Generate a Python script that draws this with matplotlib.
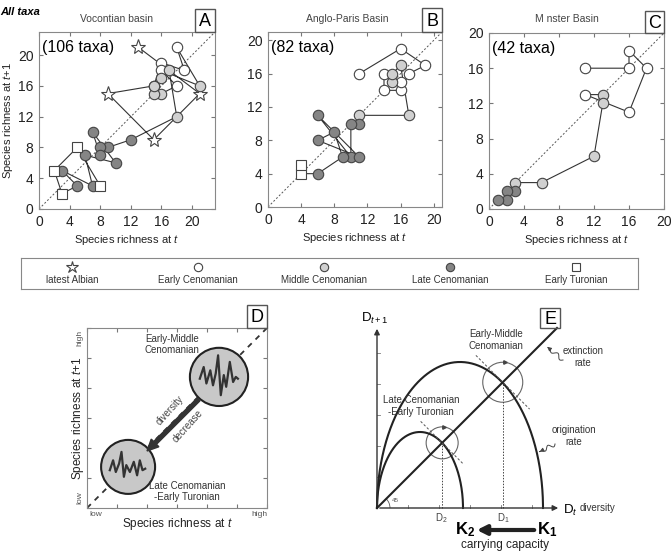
import numpy as np
import matplotlib
matplotlib.use('Agg')
import matplotlib.pyplot as plt
from matplotlib.patches import Circle, Rectangle, Arc

plt.rcParams['font.family'] = ['Liberation Sans', 'DejaVu Sans']
plt.rcParams['mathtext.fontset'] = 'custom'
plt.rcParams['mathtext.rm'] = 'Liberation Sans'
plt.rcParams['mathtext.it'] = 'Liberation Sans:italic'
plt.rcParams['mathtext.bf'] = 'Liberation Sans:bold'

# species richness series per basin; each point is (S_t, S_t+1)
richness_A = [13, 21, 15, 9, 15, 16, 19, 18, 21, 16, 18, 16, 15, 15, 16, 17, 18, 12,
              9, 8, 8, 7, 10, 6, 7, 3, 5, 3, 2, 5, 8, 3]
stage_A = list("AAAA" + "EEEE" + "M" + "EE" + "MMMMMM" + "LLLLLLLLLL" + "TTTT")

richness_B = [11, 16, 19, 17, 16, 14, 14, 16, 15, 15, 16, 17, 11, 11, 10, 10, 6, 11,
              6, 8, 9, 6, 4, 4, 5]
stage_B = list("E" * 8 + "M" * 5 + "L" * 9 + "T" * 2)

richness_C = [11, 16, 16, 18, 16, 11, 13, 13, 12, 6, 3, 3, 2, 2, 1, 1]
stage_C = list("E" * 6 + "M" * 5 + "L" * 4)

stage_names = ['latest Albian', 'Early Cenomanian', 'Middle Cenomanian',
               'Late Cenomanian', 'Early Turonian']
stage_codes = ['A', 'E', 'M', 'L', 'T']
basins = ['Vocontian basin', 'Anglo-Paris Basin', 'M nster Basin']
taxa = ['(106 taxa)', '(82 taxa)', '(42 taxa)']

# conceptual panel D: wiggles inside the two circles
big_wig_x = [-0.64, -0.51, -0.42, -0.29, -0.2, -0.11, -0.03, 0.06, 0.16, 0.24, 0.36, 0.47, 0.56, 0.63]
big_wig_y = [-0.06, 0.33, -0.22, 0.22, -0.28, 0.11, 0.72, -0.61, 0.06, -0.33, 0.5, -0.17, 0.0, -0.06]
small_wig_x = [-0.61, -0.5, -0.41, -0.3, -0.22, -0.14, -0.06, 0.06, 0.19, 0.3, 0.39, 0.48, 0.57]
small_wig_y = [-0.11, 0.22, -0.17, 0.11, 0.5, -0.33, 0.06, -0.17, 0.17, -0.28, 0.22, -0.11, -0.06]

# conceptual panel E: half-ellipse diversity curves (width, height)
curve_K1 = (166, 146)
curve_K2 = (86, 76)

W, H = 671, 551
fig = plt.figure(figsize=(W / 100, H / 100), dpi=100)


def add_ax(l, t, r, b):
    return fig.add_axes([l / W, 1 - b / H, (r - l) / W, (b - t) / H])


def ftext(x, y, s, **kw):
    return fig.text(x / W, 1 - y / H, s, **kw)


def letter_box(l, t, r, b, s):
    fig.patches.append(Rectangle((l / W, 1 - b / H), (r - l) / W, (b - t) / H,
                                 transform=fig.transFigure, fill=False, ec='#555', lw=1))
    ftext((l + r) / 2, (t + b) / 2 + 1, s, ha='center', va='center', fontsize=13)


style = {
    'A': dict(marker='*', ms=11, mfc='white'),
    'E': dict(marker='o', ms=7.5, mfc='white'),
    'M': dict(marker='o', ms=7.5, mfc='#d0d0d0'),
    'L': dict(marker='o', ms=7.5, mfc='#858585'),
    'T': dict(marker='s', ms=6.8, mfc='white'),
}


def trajectory(ax, s, st, lim):
    x = np.array(s[:-1])
    y = np.array(s[1:])
    ax.plot([0, lim], [0, lim], color='#555', lw=0.7, ls=(0, (2, 2)), zorder=1)
    ax.plot(x, y, color='#333', lw=0.8, zorder=2)
    codes = np.array(st)
    for c in stage_codes:
        m = codes == c
        if m.any():
            ax.plot(x[m], y[m], ls='none', mec='#444', mew=0.8, zorder=3, **style[c])
    ax.set_xlim(0, lim)
    ax.set_ylim(0, lim)
    ax.set_xticks(range(0, 21, 4))
    ax.set_yticks(range(0, 21, 4))
    ax.tick_params(direction='in', length=3, color='#777', labelsize=10,
                   top=True, right=True, pad=4, labelcolor='#222')
    for sp in ax.spines.values():
        sp.set_color('#888')
    ax.set_xlabel('Species richness at $t$', fontsize=8, labelpad=3, color='#222')


# panels A-C
boxes = [(39, 32, 215, 209, 23), (268, 32, 442, 207, 21), (489, 33, 664, 209, 20)]
series = [(richness_A, stage_A), (richness_B, stage_B), (richness_C, stage_C)]
title_x = [117, 347, 567]
letters = ['A', 'B', 'C']
letter_pos = [(195, 9, 215, 32), (422, 8, 442, 32), (645, 11, 664, 33)]
for i in range(3):
    l, t, r, b, lim = boxes[i]
    ax = add_ax(l, t, r, b)
    trajectory(ax, series[i][0], series[i][1], lim)
    ax.text(0.015, 0.91, taxa[i], transform=ax.transAxes, fontsize=11.5, va='center')
    ftext(title_x[i], 19, basins[i], ha='center', va='center', fontsize=7.5, color='#444')
    letter_box(*letter_pos[i], letters[i])
    if i == 0:
        ax.set_ylabel('Species richness at $t$$\\mathit{+1}$', fontsize=8, labelpad=2, color='#222')

ftext(0, 12, 'All taxa', fontsize=8, fontweight='bold', fontstyle='italic', va='center')

# legend strip
axL = add_ax(21, 258, 638, 289)
axL.set_xlim(21, 638)
axL.set_ylim(289, 258)
axL.set_xticks([])
axL.set_yticks([])
for sp in axL.spines.values():
    sp.set_color('#888')
leg_x = [72, 198, 324, 450, 576]
for xc, c, name in zip(leg_x, stage_codes, stage_names):
    kw = dict(style[c])
    kw['ms'] = kw['ms'] * 0.8
    axL.plot([xc], [267], ls='none', mec='#444', mew=0.8, **kw)
    axL.text(xc, 280, name, ha='center', va='center', fontsize=7, color='#333')

# panel D
axD = add_ax(87, 328, 267, 508)
axD.set_xlim(0, 6)
axD.set_ylim(0, 6)
axD.set_xticks(range(7))
axD.set_yticks(range(7))
axD.set_xticklabels([])
axD.set_yticklabels([])
axD.tick_params(direction='in', length=3, color='#777', top=True, right=True)
for sp in axD.spines.values():
    sp.set_color('#888')
axD.plot([0, 6], [0, 6], color='#333', lw=1.3, ls=(0, (3, 3)), zorder=1)
for (cx, cy, rr), wx, wy in [((4.4, 4.37, 0.97), big_wig_x, big_wig_y),
                             ((1.37, 1.37, 0.9), small_wig_x, small_wig_y)]:
    axD.add_patch(Circle((cx, cy), rr, fc='#c8c8c8', ec='#222', lw=1.5, zorder=2))
    axD.plot(cx + np.array(wx), cy + np.array(wy), color='#333', lw=1.6, zorder=3)
axD.arrow(3.72, 3.62, -1.72, -1.72, width=0.13, head_width=0.36, head_length=0.38,
          length_includes_head=True, color='#333', zorder=4)
axD.text(2.77, 3.27, 'diversity', rotation=48, ha='center', va='center', fontsize=7, color='#444')
axD.text(3.37, 2.72, 'decrease', rotation=48, ha='center', va='center', fontsize=7, color='#444')
axD.text(2.83, 5.45, 'Early-Middle\nCenomanian', ha='center', va='center', fontsize=7, color='#333')
axD.text(3.33, 0.55, 'Late Cenomanian\n-Early Turonian', ha='center', va='center', fontsize=7, color='#333')
axD.set_xlabel('Species richness at $t$', fontsize=8.5, labelpad=2.5, color='#222')
axD.set_ylabel('Species richness at $t$$\\mathit{+1}$', fontsize=8.5, labelpad=-2.5, color='#222')
ftext(89, 514, 'low', fontsize=6, color='#555', va='center', ha='left')
ftext(267, 514, 'high', fontsize=6, color='#555', va='center', ha='right')
ftext(80, 504, 'low', fontsize=6, color='#555', va='bottom', ha='center', rotation=90)
ftext(80, 330, 'high', fontsize=6, color='#555', va='top', ha='center', rotation=90)
letter_box(247, 305, 267, 328, 'D')

# panel E (units = pixels from the origin)
axE = add_ax(330, 300, 671, 551)
axE.set_xlim(-47, 294)
axE.set_ylim(-43, 208)
axE.axis('off')
ak = dict(arrowstyle='-|>', lw=1, color='#333', mutation_scale=8)
axE.annotate('', xy=(0, 182), xytext=(0, 0), arrowprops=ak)
axE.annotate('', xy=(184, 0), xytext=(0, 0), arrowprops=ak)
for k in range(1, 6):
    axE.plot([0, 3], [31 * k, 31 * k], color='#777', lw=0.6)
    axE.plot([31 * k, 31 * k], [0, 3], color='#777', lw=0.6)
axE.plot([0, 180], [0, 180], color='#222', lw=1.5)
theta = np.linspace(0, np.pi, 300)
for (w, h), cr in [(curve_K1, 20), (curve_K2, 16)]:
    a = w / 2
    u = a * (1 - np.cos(theta))
    v = h * np.sin(theta)
    axE.plot(u, v, color='#222', lw=1.5)
    k = np.argmin(np.abs(u[20:] - v[20:])) + 20
    ux = u[k]
    axE.plot([ux, ux], [0, ux], color='#444', lw=0.7, ls=(0, (1.5, 1.5)))
    axE.add_patch(Circle((ux, ux), cr, fill=False, ec='#666', lw=0.8))
    d = cr * 1.9
    axE.plot([ux - d / np.sqrt(2), ux + d / np.sqrt(2)], [ux + d / np.sqrt(2), ux - d / np.sqrt(2)],
             color='#555', lw=0.7, ls=(0, (2.5, 2)))
    axE.plot([ux + 2], [ux + cr], marker='>', ms=2.5, color='#444')
axE.add_patch(Arc((0, 0), 26, 26, theta1=0, theta2=45, color='#555', lw=0.6))
axE.text(15, 8, '45', fontsize=4.5, color='#555', va='center')
axE.text(-16, 190, '$\\mathrm{D}_{t+1}$', fontsize=9.5, va='center')
axE.text(186, -2, '$\\mathrm{D}_{t}$', fontsize=9.5, va='center')
axE.text(203, 0, 'diversity', fontsize=7, va='center', color='#333')
axE.text(64, -10, '$\\mathrm{D}_2$', fontsize=7, ha='center', va='center', color='#444')
axE.text(126, -10, '$\\mathrm{D}_1$', fontsize=7, ha='center', va='center', color='#444')
axE.annotate('', xy=(97, -22), xytext=(160, -22),
             arrowprops=dict(arrowstyle='-|>', lw=3, color='#222', mutation_scale=14))
axE.text(88, -22, '$\\mathbf{K}_\\mathbf{2}$', fontsize=12, ha='center', va='center')
axE.text(170, -22, '$\\mathbf{K}_\\mathbf{1}$', fontsize=12, ha='center', va='center')
axE.text(128, -37, 'carrying capacity', fontsize=8.5, ha='center', va='center', color='#222')
axE.text(119, 168, 'Early-Middle\nCenomanian', fontsize=7, ha='center', va='center', color='#333')
axE.text(44, 102, 'Late Cenomanian\n-Early Turonian', fontsize=7, ha='center', va='center', color='#333')
axE.text(206, 151, 'extinction\nrate', fontsize=7, ha='center', va='center', color='#333')
axE.text(197, 72, 'origination\nrate', fontsize=7, ha='center', va='center', color='#333')
for (x0, y0), (x1, y1) in [((186, 148), (168, 163)), ((178, 64), (160, 55))]:
    tt = np.linspace(0, 0.7, 40)
    dx, dy = x1 - x0, y1 - y0
    L = np.hypot(dx, dy)
    nx, ny = -dy / L, dx / L
    wv = 2.0 * np.sin(tt * 2 * np.pi * 1.5 / 0.7)
    axE.plot(x0 + dx * tt + nx * wv, y0 + dy * tt + ny * wv, color='#444', lw=0.7)
    axE.annotate('', xy=(x1, y1), xytext=(x0 + dx * 0.7, y0 + dy * 0.7),
                 arrowprops=dict(arrowstyle='-|>', lw=0.7, color='#444', mutation_scale=6))
letter_box(540, 308, 560, 328, 'E')

fig.savefig('out.png', dpi=100)
